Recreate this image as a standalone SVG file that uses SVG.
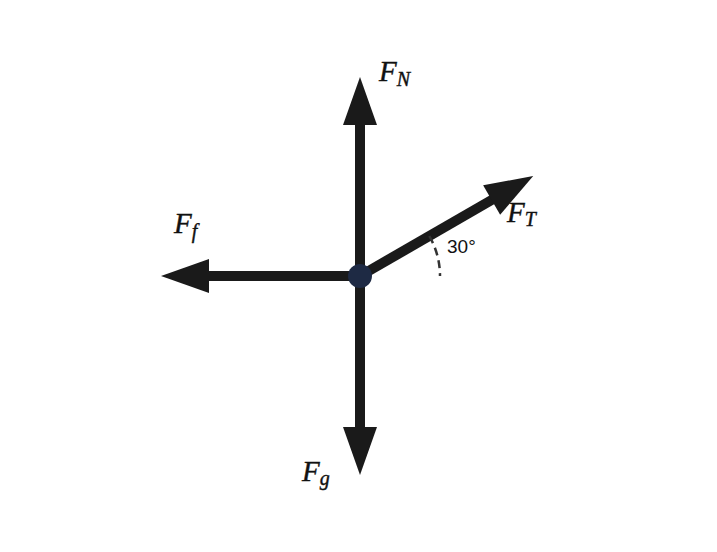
<svg xmlns="http://www.w3.org/2000/svg" width="717" height="552" viewBox="0 0 717 552">
<style>
.shaft{stroke:#1a1a1a;stroke-width:10;fill:none}
.head{fill:#1a1a1a}
.lbl{font-family:"Liberation Serif","DejaVu Serif",serif;font-style:italic;fill:#111;font-size:29px;stroke:#111;stroke-width:0.4}
.sub{font-size:20px}
.ang{font-family:"Liberation Sans",Arial,sans-serif;font-size:19px;fill:#111}
</style>
<rect width="717" height="552" fill="#fff"/>
<g id="connectors">
<g id="arrow-N"><line class="shaft" x1="360" y1="276" x2="360" y2="122"/><polygon class="head" points="360,77 377,125 343,125"/></g>
<g id="arrow-g"><line class="shaft" x1="360" y1="276" x2="360" y2="430"/><polygon class="head" points="360,475 377,427 343,427"/></g>
<g id="arrow-f"><line class="shaft" x1="360" y1="276" x2="206" y2="276"/><polygon class="head" points="161,276 209,259 209,293"/></g>
<g id="arrow-T" transform="rotate(-30 360 276)"><line class="shaft" x1="360" y1="276" x2="516" y2="276"/><polygon class="head" points="560,276 512,259 512,293"/></g>
<path id="angle-arc" d="M 429.3 236 A 80 80 0 0 1 440 276" fill="none" stroke="#333" stroke-width="2.5" stroke-dasharray="8 5"/>
</g>
<g id="center-node"><circle cx="360" cy="276" r="12" fill="#1e2a44"/></g>
<g id="label-N"><text class="lbl" x="379" y="81">F<tspan class="sub" dy="5">N</tspan></text></g>
<g id="label-T"><text class="lbl" x="507" y="222">F<tspan class="sub" dy="4">T</tspan></text></g>
<g id="label-f"><text class="lbl" x="174" y="233">F<tspan class="sub" dy="5">f</tspan></text></g>
<g id="label-g"><text class="lbl" x="302" y="481">F<tspan class="sub" dy="4">g</tspan></text></g>
<g id="label-angle"><text class="ang" x="447" y="253">30°</text></g>
</svg>
